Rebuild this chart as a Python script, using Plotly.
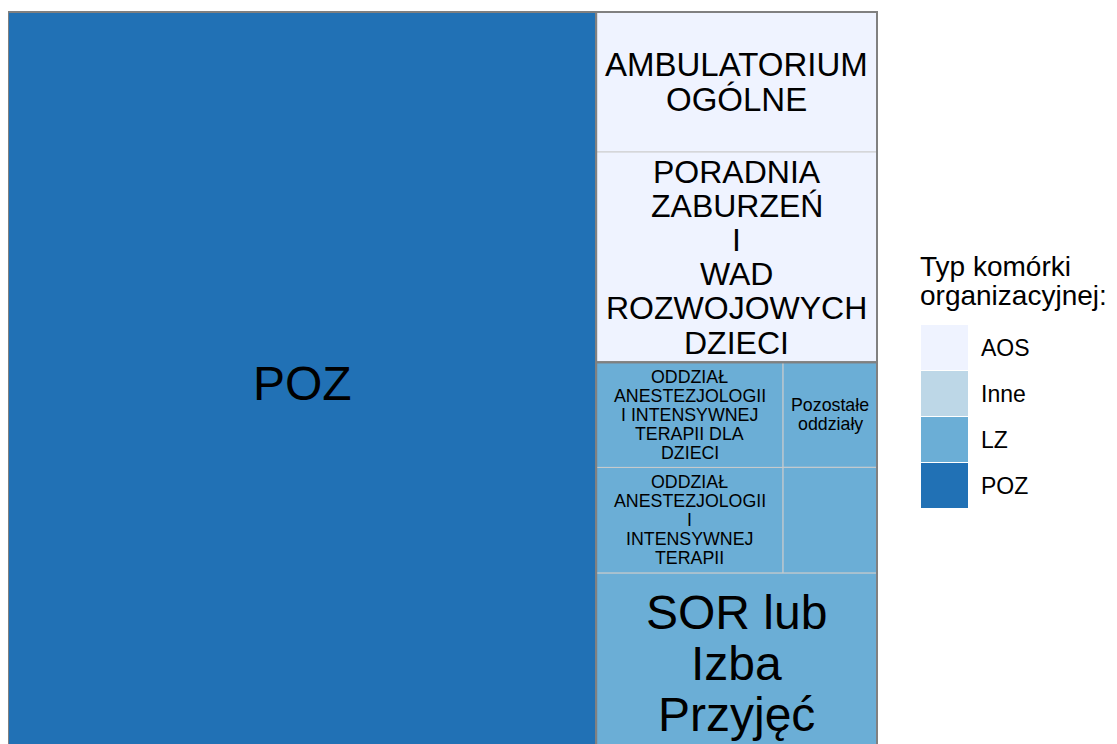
import plotly.graph_objects as go

# Typy komórek organizacyjnych (kolejność w legendzie) i ich kolory
typy = ["AOS", "Inne", "LZ", "POZ"]
kolory = ["#eff3ff", "#bdd7e7", "#6baed6", "#2171b5"]

# Komórki: typ, nazwa i udział (%)
kom_typ = ["POZ", "AOS", "AOS", "LZ", "LZ", "LZ", "LZ", "LZ"]
kom_nazwa = [
    "POZ",
    "AMBULATORIUM\nOGÓLNE",
    "PORADNIA\nZABURZEŃ\nI\nWAD\nROZWOJOWYCH\nDZIECI",
    "SOR lub\nIzba\nPrzyjęć",
    "ODDZIAŁ\nANESTEZJOLOGII\nI\nINTENSYWNEJ\nTERAPII",
    "ODDZIAŁ\nANESTEZJOLOGII\nI INTENSYWNEJ\nTERAPII DLA\nDZIECI",
    "",
    "Pozostałe\noddziały",
]
kom_udzial = [67.69, 6.10, 9.16, 7.89, 3.06, 3.05, 1.54, 1.53]

# wielkość czcionki etykiet (styl, nie dane) - wg pierwszego słowa
rozmiar = {"POZ": 48, "AMBULATORIUM": 33, "PORADNIA": 32, "SOR": 48, "mały": 17.8}

FONT = "Liberation Sans, Arial, sans-serif"
W, H = 869.0, 742.0  # prostokąt treemapy (jednostki osi)


def worst(row, side):
    s = sum(row)
    return max(max(side * side * r / (s * s), s * s / (side * side * r)) for r in row)


def squarify(vals, x, y, w, h):
    """Squarified treemap (jak w treemapify): wartości malejąco."""
    total = sum(vals)
    areas = [v * w * h / total for v in vals]
    out = []
    i = 0
    while i < len(areas):
        side = min(w, h)
        row = [areas[i]]
        j = i + 1
        while j < len(areas) and worst(row + [areas[j]], side) <= worst(row, side):
            row.append(areas[j])
            j += 1
        s = sum(row)
        if w >= h:
            cw = s / h
            yy = y
            for a in row:
                out.append((x, yy, cw, a / cw))
                yy += a / cw
            x += cw
            w -= cw
        else:
            rh = s / w
            xx = x
            for a in row:
                out.append((xx, y, a / rh, rh))
                xx += a / rh
            y += rh
            h -= rh
        i = j
    return out


# układ grup
grupy = {}
for t, v in zip(kom_typ, kom_udzial):
    grupy[t] = grupy.get(t, 0) + v
grupy_sort = sorted(grupy, key=lambda g: -grupy[g])
prost_grup = dict(zip(grupy_sort, squarify([grupy[g] for g in grupy_sort], 0, 0, W, H)))

# układ komórek w grupach
prost_kom = {}
for g in grupy_sort:
    idx = sorted([i for i, t in enumerate(kom_typ) if t == g], key=lambda i: -kom_udzial[i])
    gx, gy, gw, gh = prost_grup[g]
    for i, r in zip(idx, squarify([kom_udzial[i] for i in idx], gx, gy, gw, gh)):
        prost_kom[i] = r

fig = go.Figure()
annotations = []

for i in range(len(kom_nazwa)):
    x, y, w, h = prost_kom[i]
    kolor = kolory[typy.index(kom_typ[i])]
    fig.add_trace(go.Scatter(
        x=[x, x + w, x + w, x, x], y=[y, y, y + h, y + h, y],
        mode="lines", fill="toself", fillcolor=kolor,
        line=dict(color="#cccccc", width=1),
        hoverinfo="text", hoveron="fills",
        text=f"{kom_typ[i]}: {kom_nazwa[i].replace(chr(10), ' ')} ({kom_udzial[i]:.2f}%)",
        showlegend=False,
    ))
    if not kom_nazwa[i]:
        continue
    pierwsze = kom_nazwa[i].split()[0]
    fs = rozmiar.get(pierwsze, rozmiar["mały"])
    linie = kom_nazwa[i].split("\n")
    gap = fs * 1.07
    cy = y + h / 2
    for k, ln in enumerate(linie):
        annotations.append(dict(
            x=x + w / 2, y=cy + ((len(linie) - 1) / 2 - k) * gap,
            xref="x", yref="y", text=ln, showarrow=False,
            xanchor="center", yanchor="middle",
            font=dict(family=FONT, size=fs, color="black"),
        ))

# obramowania grup
for g in grupy_sort:
    x, y, w, h = prost_grup[g]
    fig.add_trace(go.Scatter(
        x=[x, x + w, x + w, x, x], y=[y, y, y + h, y + h, y],
        mode="lines", line=dict(color="#808080", width=2),
        hoverinfo="skip", showlegend=False,
    ))

# legenda rysowana ręcznie (duże kwadraty jak w ggplot)
# strona ma 8 px marginesu body, więc wymiary figury są o 8 px mniejsze
OFF = 8
L, T, R, B = 0, 3, 239, 0
FW, FH = 1109, 736
pw, ph = FW - L - R, FH - T - B


def px_x(p):
    return (p - OFF - L) / pw


def px_y(p):
    return (FH - B - (p - OFF)) / ph


shapes = []
for k, (t, c) in enumerate(zip(typy, kolory)):
    y0 = 325 + 46 * k
    shapes.append(dict(type="rect", xref="paper", yref="paper",
                       x0=px_x(921), x1=px_x(968), y0=px_y(y0 + 45), y1=px_y(y0),
                       fillcolor=c, line=dict(width=0)))
    annotations.append(dict(x=px_x(979), y=px_y(y0 + 23), xref="paper", yref="paper",
                            text=t, showarrow=False, xanchor="left", yanchor="middle",
                            font=dict(family=FONT, size=23, color="black")))

for k, ln in enumerate(["Typ komórki", "organizacyjnej:"]):
    annotations.append(dict(x=px_x(918), y=px_y(266 + 29 * k), xref="paper", yref="paper",
                            text=ln, showarrow=False, xanchor="left", yanchor="middle",
                            font=dict(family=FONT, size=28, color="black")))

fig.update_layout(
    width=FW, height=FH, autosize=False,
    margin=dict(l=L, r=R, t=T, b=B),
    paper_bgcolor="white", plot_bgcolor="white",
    xaxis=dict(range=[0, W + 1], visible=False, fixedrange=True),
    yaxis=dict(range=[10, H + 1], visible=False, fixedrange=True),
    shapes=shapes, annotations=annotations,
    showlegend=False, hovermode="closest",
)

fig.write_html("out.html")
